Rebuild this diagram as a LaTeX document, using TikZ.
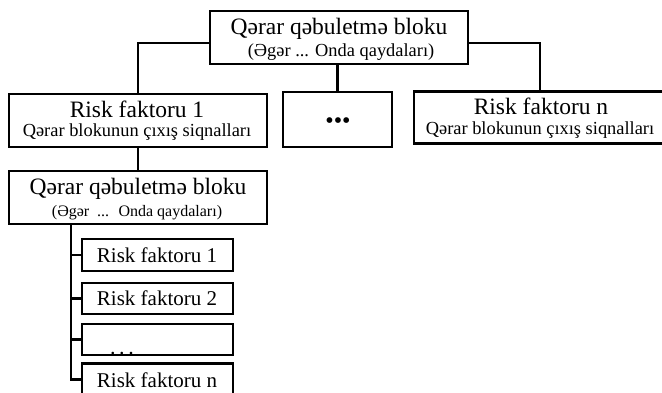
\documentclass[tikz,border=0pt]{standalone}
\usepackage{fontspec}
\setmainfont{Liberation Serif}
\begin{document}
\begin{tikzpicture}[x=1pt,y=-1pt,
  box/.style={draw=black, line width=2.2pt, rectangle, inner sep=0pt},
  conn/.style={draw=black, line width=2.2pt},
  big/.style={font=\fontsize{23.5}{26}\selectfont, inner sep=0pt, anchor=base},
  sub/.style={font=\fontsize{18.4}{20}\selectfont, inner sep=0pt, anchor=base},
  subs/.style={font=\fontsize{16}{18}\selectfont, inner sep=0pt, anchor=base},
  small/.style={font=\fontsize{21}{23}\selectfont, inner sep=0pt, anchor=base}]
\useasboundingbox (0,0) rectangle (662,392);
\clip (0,0) rectangle (662,392);
% boxes
\node[box, minimum width=258, minimum height=53] (top) at (339,37.5) {};
\node[box, minimum width=258, minimum height=53] (rf1) at (138,120.5) {};
\node[box, minimum width=109, minimum height=55] (mid) at (337.5,119.5) {};
\node[box, minimum width=252, minimum height=52] (rfn) at (540,117.5) {};
\node[box, minimum width=258, minimum height=53] (low) at (138,197.5) {};
\node[box, minimum width=151, minimum height=32] (s1) at (157.5,255) {};
\node[box, minimum width=151, minimum height=31] (s2) at (157.5,298.5) {};
\node[box, minimum width=151, minimum height=31] (s3) at (157.5,339.5) {};
\node[box, minimum width=151, minimum height=32] (s4) at (157.5,379.5) {};
% texts
\node[big] (t1) at (339,34) {Qərar qəbuletmə bloku};
\node[sub] (t2) at (341,56) {(Əgər ... Onda qaydaları)};
\node[big] (t3) at (137,117) {Risk faktoru 1};
\node[sub] (t4) at (137,136) {Qərar blokunun çıxış siqnalları};
\node[font=\fontsize{24}{26}\selectfont, inner sep=0pt] (t5) at (338,123) {•••};
\node[big] (t6) at (541,114) {Risk faktoru n};
\node[sub] (t7) at (540,134) {Qərar blokunun çıxış siqnalları};
\node[big] (t8) at (138,194) {Qərar qəbuletmə bloku};
\node[subs] (t9) at (137,216) {(Əgər \ ... \ Onda qaydaları)};
\node[small] (u1) at (157,262) {Risk faktoru 1};
\node[small] (u2) at (157,305) {Risk faktoru 2};
\node[subs, font=\fontsize{22}{24}\selectfont] (u3) at (122,354) {.\,.\,.};
\node[small] (u4) at (157,387) {Risk faktoru n};
% connectors
\draw[conn] (top.west |- 0,43) -| (rf1.north);
\draw[conn] (top.east |- 0,43) -| (rfn.north);
\draw[conn] (top.south -| mid.north) -- (mid.north);
\draw[conn] (rf1.south) -- (low.north);
\coordinate (v0) at (71,224);
\draw[conn] (low.south -| v0) -- (s4.west -| v0) -- (s4.west);
\draw[conn] (s1.west -| v0) -- (s1.west);
\draw[conn] (s2.west -| v0) -- (s2.west);
\draw[conn] (s3.west -| v0) -- (s3.west);
\end{tikzpicture}
\end{document}
